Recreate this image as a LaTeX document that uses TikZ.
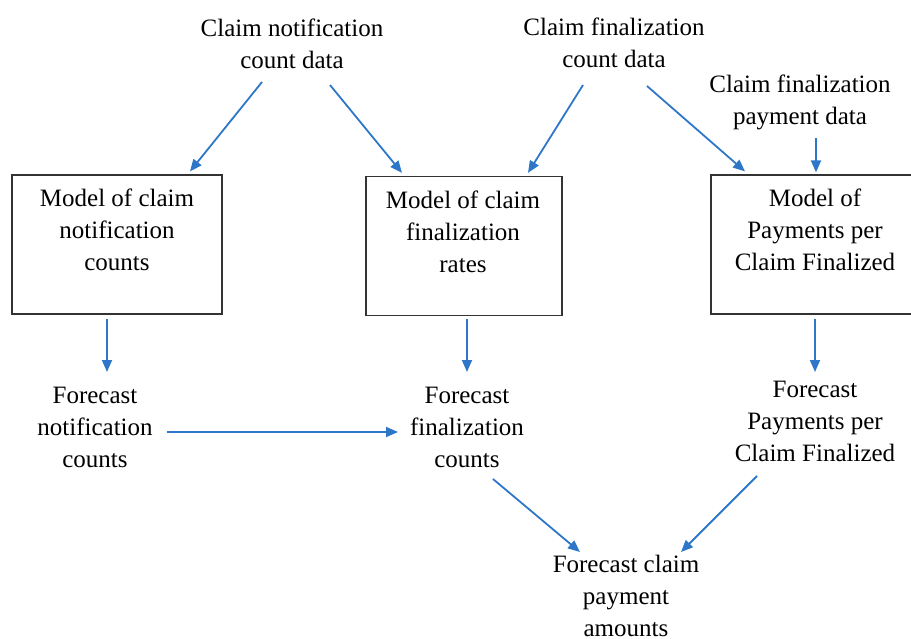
\documentclass[tikz,border=0pt]{standalone}
\usepackage{fontspec}
\setmainfont{LiberationSerif}[Extension=.ttf,UprightFont=*-Regular,BoldFont=*-Bold]
\usetikzlibrary{arrows.meta,calc}
\definecolor{arrblue}{RGB}{45,118,200}
\begin{document}
\begin{tikzpicture}[x=1pt,y=-1pt,
  txt/.style={align=center,inner sep=0pt,font=\fontsize{25}{32}\selectfont},
  modelbox/.style={rectangle,draw=black!80,line width=1.2pt,inner sep=0pt,minimum height=139pt},
  arr/.style={-{Triangle[length=12pt,width=10pt]},line width=1.8pt,color=arrblue}]
\useasboundingbox (0,0) rectangle (911,639);

% data sources
\node (cnd) [txt] at (292,44) {Claim notification\\count data};
\node (cfd) [txt] at (614,43) {Claim finalization\\count data};
\node (cpd) [txt] at (800,102) {Claim finalization\\payment data};

% model boxes
\node (mcn) [modelbox,minimum width=210pt] at (117,244.5) {};
\node (mfr) [modelbox,minimum width=196pt] at (464,246) {};
\node (mpp) [modelbox,minimum width=204pt] at (813,244.5) {};
\node (tcn) [txt] at (117,230) {Model of claim\\notification\\counts};
\node (tfr) [txt] at (463,232) {Model of claim\\finalization\\rates};
\node (tpp) [txt] at (815,230) {Model of\\Payments per\\Claim Finalized};

% forecasts
\node (fnc) [txt] at (95,427) {Forecast\\notification\\counts};
\node (ffc) [txt] at (467,427) {Forecast\\finalization\\counts};
\node (fpp) [txt] at (815,421) {Forecast\\Payments per\\Claim Finalized};
\node (fca) [txt] at (626,596) {Forecast claim\\payment\\amounts};

% connectors
\draw [arr] ($(cnd)+(-30,38)$) -- ($(mcn.north)+(73,-3)$);
\draw [arr] ($(cnd)+(38,41)$) -- ($(mfr.north)+(-62,-3)$);
\draw [arr] ($(cfd)+(-31,42)$) -- ($(mfr.north)+(64,-3)$);
\draw [arr] ($(cfd)+(33,43)$) -- ($(mpp.north)+(-68,-3)$);
\draw [arr] ($(cpd)+(16,36)$) -- ($(mpp.north)+(3,-2)$);
\draw [arr] ($(mcn.south)+(-10,4)$) -- ($(fnc)+(12,-55)$);
\draw [arr] ($(mfr.south)+(3,3)$) -- ($(ffc)+(0,-55)$);
\draw [arr] ($(mpp.south)+(2,4)$) -- ($(fpp)+(0,-49)$);
\draw [arr] ($(fnc)+(72,5)$) -- ($(ffc)+(-69,5)$);
\draw [arr] ($(ffc)+(26,52)$) -- ($(fca)+(-46,-44)$);
\draw [arr] ($(fpp)+(-58,55)$) -- ($(fca)+(55,-44)$);
\end{tikzpicture}
\end{document}
